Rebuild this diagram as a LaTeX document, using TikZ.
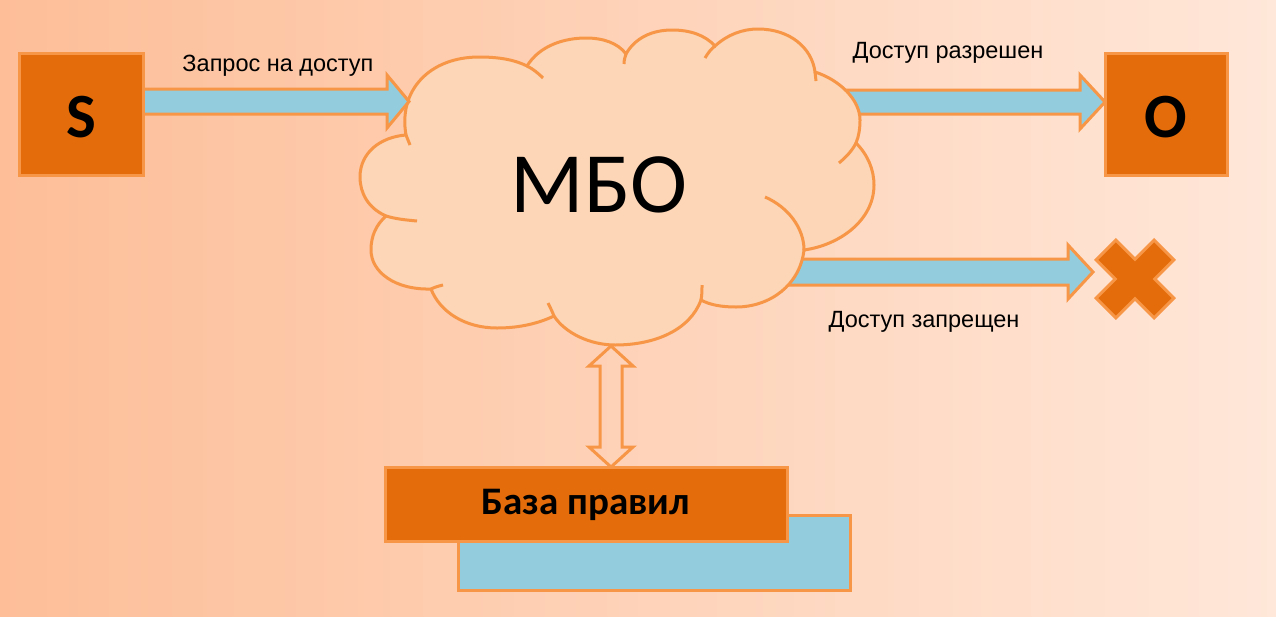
\documentclass[tikz,border=0pt]{standalone}
\usepackage{fontspec}
\setmainfont{Liberation Sans}
\newfontfamily\carlito{Carlito}
\definecolor{bgL}{RGB}{253,190,152}
\definecolor{bgR}{RGB}{255,231,217}
\definecolor{dorange}{RGB}{228,108,10}
\definecolor{lorange}{RGB}{247,150,70}
\definecolor{lblue}{RGB}{147,205,221}
\definecolor{cloudfill}{RGB}{252,214,182}
\begin{document}
\begin{tikzpicture}[x=1pt,y=-1pt,line join=miter,
  obox/.style={fill=dorange,draw=lorange,line width=3pt},
  barrow/.style={fill=lblue,draw=lorange,line width=3pt},
  cloudline/.style={draw=lorange,line width=3pt},
  lbl/.style={font=\fontsize{23.5}{25}\selectfont,inner sep=0pt,text=black},
  bigletter/.style={font=\carlito\bfseries\fontsize{63}{65}\selectfont,text=black,inner sep=0pt}]
\shade[left color=bgL,right color=bgR] (0,0) rectangle (1276,616);
\useasboundingbox (0,0) rectangle (1276,616);

% arrows behind the cloud
\filldraw[barrow] (780,90) -- (1080,90) -- (1080,75) -- (1105,102) -- (1080,129) -- (1080,114) -- (780,114) -- cycle;
\filldraw[barrow] (760,259) -- (1068,259) -- (1068,245) -- (1093,272) -- (1068,299) -- (1068,285) -- (760,285) -- cycle;

% cloud
\path[fill=cloudfill,cloudline]
 (406,135) .. controls (398,90) and (430,57) .. (479,57) .. controls (500,57) and (515,60) .. (527,66)
 .. controls (540,45) and (565,38) .. (586,38) .. controls (603,38) and (618,43) .. (626,54)
 .. controls (635,38) and (652,30) .. (672,30) .. controls (690,30) and (705,35) .. (715,46)
 .. controls (727,35) and (742,29) .. (758,29) .. controls (790,29) and (812,48) .. (815,72)
 .. controls (840,80) and (860,100) .. (860,120) .. controls (860,128) and (859,136) .. (856,143)
 .. controls (868,155) and (874,170) .. (874,185) .. controls (874,220) and (840,245) .. (804,250)
 .. controls (800,285) and (770,307) .. (736,307) .. controls (722,307) and (710,305) .. (701,300)
 .. controls (690,330) and (655,345) .. (615,345) .. controls (590,345) and (565,333) .. (554,316)
 .. controls (535,325) and (515,328) .. (497,328) .. controls (465,328) and (440,312) .. (431,289)
 .. controls (395,290) and (371,272) .. (371,250) .. controls (371,236) and (376,225) .. (386,216)
 .. controls (368,208) and (360,193) .. (360,177) .. controls (360,153) and (380,137) .. (406,135) -- cycle;
\draw[cloudline] (406,135) -- (410,145);
\draw[cloudline] (527,66) .. controls (533,69) and (538,73) .. (543,78);
\draw[cloudline] (626,54) .. controls (625,57) and (624,60) .. (624,64);
\draw[cloudline] (715,46) .. controls (711,49) and (708,53) .. (705,58);
\draw[cloudline] (815,72) -- (816,81);
\draw[cloudline] (856,143) .. controls (852,151) and (846,157) .. (839,163);
\draw[cloudline] (765,197) .. controls (788,207) and (804,228) .. (804,250);
\draw[cloudline] (701,300) .. controls (702,295) and (702,290) .. (702,285);
\draw[cloudline] (554,316) .. controls (552,311) and (550,307) .. (548,303);
\draw[cloudline] (431,289) .. controls (435,287) and (439,286) .. (443,285);
\draw[cloudline] (386,216) .. controls (396,219) and (406,220) .. (417,221);
\node[font=\carlito\fontsize{86}{88}\selectfont,inner sep=0pt] (mbo) at (599,185) {МБО};

% request arrow
\filldraw[barrow] (143,89) -- (387,89) -- (387,75) -- (409,101.5) -- (387,128) -- (387,114) -- (143,114) -- cycle;

% S and O boxes
\filldraw[obox] (19,53) rectangle (143,175);
\node[bigletter] (S) at (81,117) {S};
\filldraw[obox] (1105,53) rectangle (1227,175);
\node[bigletter] (O) at (1166,117) {O};

% labels
\node[lbl] (l1) at (278,66) {Запрос на доступ};
\node[lbl] (l2) at (948,53) {Доступ разрешен};
\node[lbl] (l3) at (924,322) {Доступ запрещен};

% deny mark
\begin{scope}[shift={(1135,279)},rotate=45]
\filldraw[obox] (41,14) -- (14,14) -- (14,41) -- (-14,41) -- (-14,14) -- (-41,14) -- (-41,-14) -- (-14,-14) -- (-14,-41) -- (14,-41) -- (14,-14) -- (41,-14) -- cycle;
\end{scope}

% rule base
\filldraw[barrow] (458,515) rectangle (850,590);
\filldraw[obox] (385,467) rectangle (787,541);
\node[font=\carlito\bfseries\fontsize{39}{40}\selectfont,inner sep=0pt] (db) at (586,505) {База правил};

% double arrow
\draw[cloudline] (611,346) -- (633,366) -- (622,366) -- (622,447) -- (633,447) -- (611,467) -- (589,447) -- (600,447) -- (600,366) -- (589,366) -- cycle;
\end{tikzpicture}
\end{document}
